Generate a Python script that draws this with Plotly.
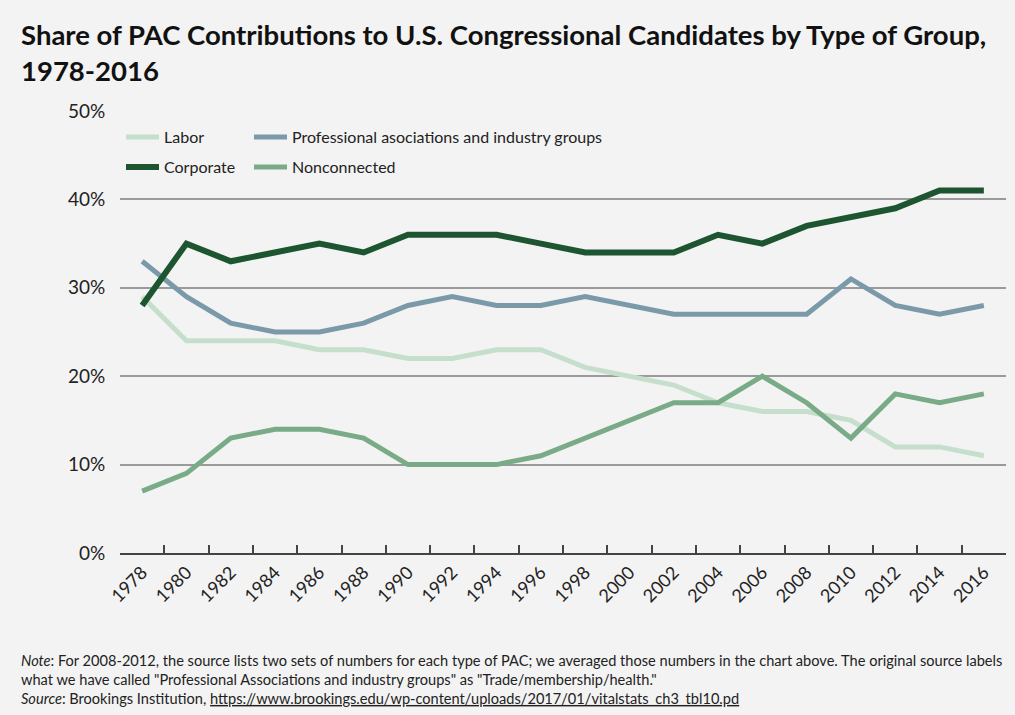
import plotly.graph_objects as go

# ------------------------------------------------------------------
# Data (share of PAC contributions, %)
# ------------------------------------------------------------------
years = [str(y) for y in range(1978, 2017, 2)]

labor = [29, 24, 24, 24, 23, 23, 22, 22, 23, 23,
         21, 20, 19, 17, 16, 16, 15, 12, 12, 11]
professional = [33, 29, 26, 25, 25, 26, 28, 29, 28, 28,
                29, 28, 27, 27, 27, 27, 31, 28, 27, 28]
corporate = [28, 35, 33, 34, 35, 34, 36, 36, 36, 35,
             34, 34, 34, 36, 35, 37, 38, 39, 41, 41]
nonconnected = [7, 9, 13, 14, 14, 13, 10, 10, 10, 11,
                13, 15, 17, 17, 20, 17, 13, 18, 17, 18]

y_ticks = [0, 10, 20, 30, 40, 50]
y_tick_text = [f"{v}%" for v in y_ticks]

title_text = ("<b>Share of PAC Contributions to U.S. Congressional Candidates by Type of Group,"
              "<br>1978-2016</b>")
note_text = (
    "<i>Note</i>: For 2008-2012, the source lists two sets of numbers for each type of PAC; "
    "we averaged those numbers in the chart above. The original source labels<br>"
    "what we have called \"Professional Associations and industry groups\" as "
    "\"Trade/membership/health.\"<br>"
    "<i>Source</i>: Brookings Institution, "
    "<span style='text-decoration:underline'>"
    "https://www.brookings.edu/wp-content/uploads/2017/01/vitalstats_ch3_tbl10.pd</span>"
)

BG = "#f3f3f3"
FONT = "Lato, 'Open Sans', sans-serif"
W, H = 1015, 715
PLOT_L, PLOT_T, PLOT_R, PLOT_B = 120, 111, 1006, 553
PW, PH = PLOT_R - PLOT_L, PLOT_B - PLOT_T

# name, values, colour, width, legend id, legend position (px, swatch-left / row centre)
series = [
    ("Labor", labor, "#c6dfcc", 5, "legend", (125, 137)),
    ("Professional asociations and industry groups", professional, "#7b9aa9", 5, "legend2", (253, 137)),
    ("Corporate", corporate, "#1d5530", 6, "legend3", (125, 167)),
    ("Nonconnected", nonconnected, "#7aab87", 5, "legend4", (253, 167)),
]

fig = go.Figure()
legends = {}
for name, vals, color, width, leg, (lx, ly) in series:
    fig.add_trace(go.Scatter(
        x=years, y=vals, name=name, mode="lines",
        line=dict(color=color, width=width),
        legend=leg,
        hovertemplate="%{x}: %{y}%<extra>" + name + "</extra>",
    ))
    legends[leg] = dict(
        orientation="h",
        xref="container", yref="container",
        x=(lx - 4) / W, y=1 - ly / H,
        xanchor="left", yanchor="middle",
        bgcolor="rgba(0,0,0,0)",
        font=dict(family=FONT, size=16, color="#222"),
        itemwidth=33,
    )

fig.update_layout(
    width=W, height=H,
    showlegend=True,
    paper_bgcolor=BG, plot_bgcolor=BG,
    margin=dict(l=PLOT_L, r=W - PLOT_R, t=PLOT_T, b=H - PLOT_B, autoexpand=False),
    font=dict(family=FONT, color="#222"),
    **legends,
    xaxis=dict(
        type="category",
        tickson="boundaries",
        showgrid=False,
        showline=True, linecolor="#444", linewidth=2,
        ticks="inside", ticklen=8, tickwidth=1.5, tickcolor="#444",
        tickangle=-45,
        tickfont=dict(family=FONT, size=18, color="#222"),
        range=[-0.5, len(years) - 0.5],
        zeroline=False,
    ),
    yaxis=dict(
        range=[0, 50],
        tickvals=y_ticks, ticktext=y_tick_text,
        showgrid=True, gridcolor="#9a9a9a", gridwidth=1.5,
        zeroline=False, showline=False,
        # invisible ticks just to open a gap between labels and gridlines
        ticks="outside", ticklen=10, tickcolor="rgba(0,0,0,0)",
        tickfont=dict(family=FONT, size=19, color="#222"),
    ),
    annotations=[
        dict(
            text=title_text,
            xref="paper", yref="paper",
            x=(19 - PLOT_L) / PW, y=1 + (PLOT_T - 16) / PH,
            xanchor="left", yanchor="top", align="left",
            showarrow=False,
            font=dict(family=FONT, size=27.5, color="#111"),
        ),
        dict(
            text=note_text,
            xref="paper", yref="paper",
            x=(19 - PLOT_L) / PW, y=-(650 - PLOT_B) / PH,
            xanchor="left", yanchor="top", align="left",
            showarrow=False,
            font=dict(family=FONT, size=14.6, color="#222"),
        ),
    ],
)

# drop the browser's default 8px body margin so the figure sits at (0, 0)
fig.write_html(
    "out.html",
    config={"displayModeBar": False},
    post_script="document.body.style.margin = '0';",
)
